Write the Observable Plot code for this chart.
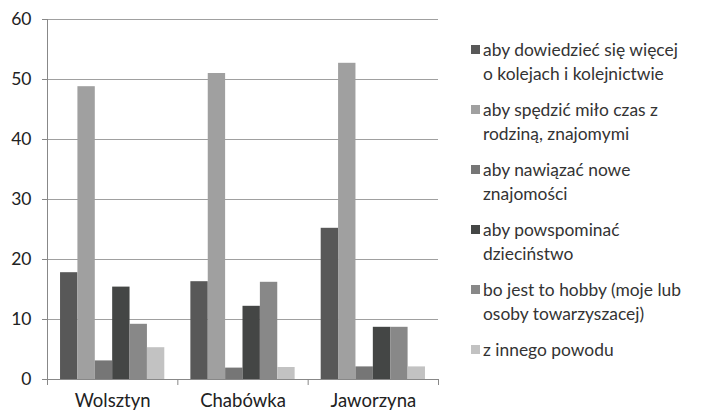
<!DOCTYPE html>
<html>
<head>
<meta charset="utf-8">
<script src="https://cdn.jsdelivr.net/npm/d3@7"></script>
<script src="https://cdn.jsdelivr.net/npm/@observablehq/plot@0.6"></script>
<style>
  html, body { margin: 0; padding: 0; background: #fff; }
  #wrap { position: relative; width: 701px; height: 413px; overflow: hidden; font-family: Lato, "Open Sans", sans-serif; }
  #legend { position: absolute; left: 471px; top: 38px; display: flex; flex-direction: column; gap: 12px; }
  .item { position: relative; padding-left: 12px; font-size: 17.4px; line-height: 24px; color: #333; white-space: nowrap; }
  .sw { position: absolute; left: 0; top: 7px; width: 9px; height: 9px; }
</style>
</head>
<body>
<div id="wrap"></div>
<script>
const categories = ["Wolsztyn", "Chabówka", "Jaworzyna"];
const seriesNames = [
  ["aby dowiedzieć się więcej", "o kolejach i kolejnictwie"],
  ["aby spędzić miło czas z", "rodziną, znajomymi"],
  ["aby nawiązać nowe", "znajomości"],
  ["aby powspominać", "dzieciństwo"],
  ["bo jest to hobby (moje lub", "osoby towarzyszacej)"],
  ["z innego powodu"]
];
const wolsztyn = [17.8, 48.8, 3.1, 15.4, 9.2, 5.3];
const chabowka = [16.3, 51.0, 1.9, 12.2, 16.2, 2.0];
const jaworzyna = [25.2, 52.7, 2.1, 8.7, 8.7, 2.1];
const colors = ["#585858", "#a0a0a0", "#767676", "#444645", "#888888", "#c2c2c2"];
const yTicks = [0, 10, 20, 30, 40, 50, 60];

const groups = [wolsztyn, chabowka, jaworzyna];
const pad = 0.75, slots = seriesNames.length + 2 * pad;
const data = [];
groups.forEach((vals, ci) => vals.forEach((v, si) => data.push({
  category: categories[ci], series: seriesNames[si].join(" "), value: v, color: colors[si],
  x1: ci + (si + pad) / slots, x2: ci + (si + pad + 1) / slots
})));

const chart = Plot.plot({
  width: 701, height: 413,
  marginLeft: 47, marginRight: 263, marginTop: 19, marginBottom: 34,
  style: { fontFamily: "Lato, 'Open Sans', sans-serif", fontSize: "17px", color: "#222", background: "#fff" },
  x: { domain: [0, categories.length], axis: null },
  y: { domain: [0, 60], axis: null },
  marks: [
    Plot.ruleY(yTicks.slice(1), { stroke: "#a0a0a0", strokeWidth: 1 }),
    Plot.rectY(data, { x1: "x1", x2: "x2", y1: 0, y2: "value", fill: "color" }),
    Plot.ruleY([0], { stroke: "#888" }),
    Plot.ruleX([0], { stroke: "#888" }),
    Plot.axisY({ ticks: yTicks, tickSize: 5, tickPadding: 11, stroke: "#888", fill: "#222", fontSize: 17.5, label: null }),
    Plot.axisX({ ticks: d3.range(categories.length + 1), tickSize: 6, stroke: "#888", tickFormat: () => "", label: null }),
    Plot.axisX({ ticks: categories.map((c, i) => i + 0.5), tickSize: 0, tickPadding: 14, fill: "#222", fontSize: 18.5,
      tickFormat: d => categories[Math.floor(d)], label: null })
  ]
});

const wrap = document.getElementById("wrap");
wrap.appendChild(chart);
const legend = document.createElement("div");
legend.id = "legend";
seriesNames.forEach((lines, i) => {
  const it = document.createElement("div");
  it.className = "item";
  const sw = document.createElement("span");
  sw.className = "sw";
  sw.style.background = colors[i];
  it.appendChild(sw);
  lines.forEach((l, j) => {
    if (j) it.appendChild(document.createElement("br"));
    it.appendChild(document.createTextNode(l));
  });
  legend.appendChild(it);
});
wrap.appendChild(legend);
</script>
</body>
</html>
